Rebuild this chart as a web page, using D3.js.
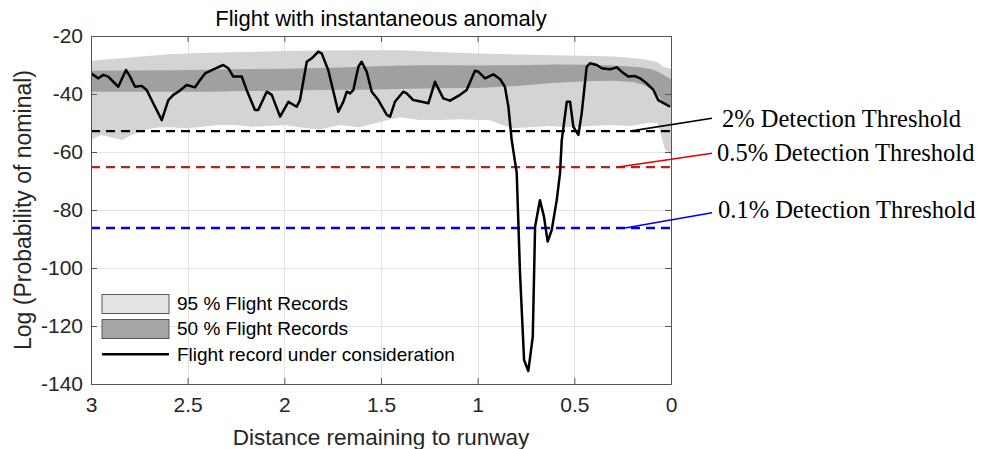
<!DOCTYPE html>
<html>
<head>
<meta charset="utf-8">
<script src="https://cdn.jsdelivr.net/npm/d3@7"></script>
<style>
  html, body { margin: 0; padding: 0; background: #fff; }
  svg { display: block; }
</style>
</head>
<body>
<script>
// Flight record under consideration: distance remaining vs log probability
const distance = [3.0, 2.962, 2.936, 2.911, 2.859, 2.819, 2.798, 2.772, 2.738, 2.712, 2.678, 2.634, 2.600, 2.574, 2.548, 2.505, 2.462, 2.436, 2.410, 2.367, 2.316, 2.290, 2.264, 2.220, 2.195, 2.152, 2.135, 2.091, 2.065, 2.022, 1.979, 1.936, 1.919, 1.884, 1.858, 1.824, 1.807, 1.773, 1.721, 1.695, 1.677, 1.660, 1.643, 1.617, 1.600, 1.574, 1.548, 1.514, 1.470, 1.453, 1.428, 1.385, 1.367, 1.333, 1.289, 1.255, 1.221, 1.178, 1.143, 1.091, 1.057, 1.014, 0.997, 0.962, 0.919, 0.884, 0.859, 0.841, 0.824, 0.798, 0.781, 0.760, 0.738, 0.715, 0.703, 0.678, 0.657, 0.638, 0.617, 0.591, 0.574, 0.565, 0.539, 0.522, 0.505, 0.479, 0.462, 0.436, 0.419, 0.384, 0.358, 0.315, 0.281, 0.255, 0.221, 0.186, 0.160, 0.126, 0.091, 0.066, 0.031, 0.005];
const logProb = [-32.9, -34.6, -33.4, -34.0, -37.5, -31.7, -34.0, -37.5, -37.2, -38.6, -43.2, -49.0, -42.1, -40.3, -39.2, -36.9, -37.7, -35.2, -32.9, -31.5, -30.0, -31.1, -34.0, -34.0, -38.6, -45.5, -45.5, -39.2, -40.3, -47.8, -42.7, -44.4, -42.1, -28.9, -27.7, -25.4, -26.0, -31.7, -46.1, -42.7, -39.2, -39.8, -38.6, -30.6, -28.9, -32.3, -39.2, -42.1, -47.2, -47.8, -42.7, -39.2, -39.8, -42.1, -42.7, -43.2, -35.8, -41.5, -42.3, -40.3, -38.6, -32.0, -32.3, -34.6, -33.2, -34.9, -37.5, -44.4, -55.9, -67.2, -101.7, -131.7, -135.5, -123.7, -85.8, -76.6, -82.3, -90.9, -86.9, -76.6, -67.3, -55.9, -42.7, -42.7, -51.3, -54.1, -46.7, -30.6, -29.4, -30.0, -31.1, -31.5, -30.8, -32.3, -34.0, -33.8, -34.6, -36.3, -38.6, -42.1, -43.4, -44.4];

// Envelope of the recorded fleet (upper edges and 50 % lower edge)
const bandDist = [3.0, 2.8, 2.6, 2.4, 2.2, 2.0, 1.8, 1.6, 1.4, 1.2, 1.0, 0.8, 0.6, 0.4, 0.3, 0.2, 0.15, 0.1, 0.07, 0.04, 0.0];
const upper95 = [-28.5, -27.4, -26.3, -25.8, -25.5, -25.2, -25.0, -24.9, -24.9, -25.5, -26.0, -26.4, -26.6, -26.9, -27.1, -27.6, -27.9, -28.5, -29.0, -30.6, -31.3];
const upper50 = [-32.0, -31.9, -31.8, -31.6, -31.4, -31.3, -31.0, -30.6, -30.2, -30.1, -30.2, -30.1, -29.8, -29.9, -30.2, -30.6, -30.9, -31.5, -32.2, -33.4, -34.9];
const lower50 = [-39.2, -39.2, -39.2, -39.2, -39.0, -38.8, -38.6, -38.5, -38.3, -38.0, -37.9, -37.2, -36.1, -35.5, -35.4, -35.9, -36.6, -38.4, -40.3, -42.7, -44.4];

// Lower edge of the 95 % envelope
const lower95Dist = [3.0, 2.95, 2.91, 2.84, 2.79, 2.72, 2.65, 2.58, 2.51, 2.45, 2.34, 2.26, 2.17, 2.08, 2.0, 1.92, 1.82, 1.71, 1.61, 1.5, 1.4, 1.3, 1.2, 1.09, 0.99, 0.94, 0.83, 0.73, 0.63, 0.52, 0.42, 0.32, 0.21, 0.11, 0.07, 0.05, 0.03, 0.016, 0.0];
const lower95 = [-55.9, -54.1, -54.7, -55.9, -54.1, -52.4, -51.5, -51.5, -51.8, -51.5, -50.7, -50.7, -51.3, -51.0, -50.7, -51.5, -52.2, -50.7, -51.5, -49.6, -48.0, -49.0, -49.0, -48.7, -49.0, -49.0, -51.8, -51.5, -51.0, -51.5, -51.0, -50.7, -51.0, -49.9, -50.1, -54.7, -59.3, -60.0, -61.0];

// Detection thresholds
const thresholdValues = [-52.8, -65.2, -86.2];
const thresholdNames = ["2% Detection Threshold", "0.5% Detection Threshold", "0.1% Detection Threshold"];
const thresholdAnchor = [0.212, 0.273, 0.238];

const xTicks = [3, 2.5, 2, 1.5, 1, 0.5, 0];
const yTicks = [-140, -120, -100, -80, -60, -40, -20];
const legendLabels = ["95 % Flight Records", "50 % Flight Records", "Flight record under consideration"];

// ---- layout & style ----
const W = 984, H = 449;
const plot = { left: 91, right: 671, top: 36, bottom: 384 };
const dashColors = ["#000000", "#b22222", "#0000ee"];
const leaderColors = ["#000000", "#e00000", "#0000ee"];
const labelBaselines = [126.7, 160.7, 218.3];
const labelStartX = [722, 717, 718];
const leaderEnd = [[712, 118.3], [712, 153.3], [712, 212.7]];
const sans = "'Liberation Sans', Arial, Helvetica, sans-serif";
const serif = "'Liberation Serif', 'Times New Roman', serif";
const plainNumber = d => String(d);

const x = d3.scaleLinear().domain([3, 0]).range([plot.left, plot.right]);
const y = d3.scaleLinear().domain([-140, -20]).range([plot.bottom, plot.top]);

const svg = d3.select("body").append("svg")
  .attr("width", W).attr("height", H)
  .attr("viewBox", `0 0 ${W} ${H}`);

svg.append("defs").append("clipPath").attr("id", "plotClip")
  .append("rect")
  .attr("x", plot.left).attr("y", plot.top)
  .attr("width", plot.right - plot.left).attr("height", plot.bottom - plot.top);

// grid
const grid = svg.append("g").attr("stroke", "#e3e3e3").attr("stroke-width", 1);
grid.selectAll("line.gx").data(xTicks.slice(1, -1)).join("line")
  .attr("x1", d => Math.round(x(d)) + 0.5).attr("x2", d => Math.round(x(d)) + 0.5)
  .attr("y1", plot.top).attr("y2", plot.bottom);
grid.selectAll("line.gy").data(yTicks.slice(1, -1)).join("line")
  .attr("y1", d => Math.round(y(d)) + 0.5).attr("y2", d => Math.round(y(d)) + 0.5)
  .attr("x1", plot.left).attr("x2", plot.right);

const body = svg.append("g").attr("clip-path", "url(#plotClip)");

// 95 % envelope as a closed polygon
const outline = bandDist.map((d, i) => [d, upper95[i]])
  .concat(lower95Dist.map((d, i) => [d, lower95[i]]).reverse());
const poly = d3.line().x(p => x(p[0])).y(p => y(p[1]));
body.append("path")
  .attr("d", poly(outline) + "Z")
  .attr("fill", "#d4d4d4");

// 50 % envelope
const area50 = d3.area()
  .x(d => x(d))
  .y0((d, i) => y(lower50[i]))
  .y1((d, i) => y(upper50[i]));
body.append("path")
  .attr("d", area50(bandDist))
  .attr("fill", "#a0a0a0");

// thresholds
body.selectAll("line.thr").data(thresholdValues).join("line")
  .attr("x1", x(3)).attr("x2", x(0))
  .attr("y1", d => y(d)).attr("y2", d => y(d))
  .attr("stroke", (d, i) => dashColors[i])
  .attr("stroke-width", 2.4)
  .attr("stroke-dasharray", "9,6");

// flight record
const flight = distance.map((d, i) => [d, logProb[i]]);
body.append("path")
  .attr("d", d3.line().x(p => x(p[0])).y(p => y(p[1]))(flight))
  .attr("fill", "none")
  .attr("stroke", "#000")
  .attr("stroke-width", 2.5)
  .attr("stroke-linejoin", "round");

// axes (box with inward ticks)
const axisStyle = g => {
  g.select(".domain").attr("stroke", "#555");
  g.selectAll(".tick line").attr("stroke", "#555");
  g.selectAll(".tick text").attr("fill", "#262626")
    .style("font-family", sans).style("font-size", "21px");
};
svg.append("g").attr("transform", `translate(0,${plot.bottom})`)
  .call(d3.axisBottom(x).tickValues(xTicks).tickFormat(plainNumber).tickSize(-6).tickSizeOuter(0).tickPadding(13))
  .call(axisStyle);
svg.append("g").attr("transform", `translate(0,${plot.top})`)
  .call(d3.axisTop(x).tickValues(xTicks).tickFormat("").tickSize(-6).tickSizeOuter(0))
  .call(axisStyle);
svg.append("g").attr("transform", `translate(${plot.left},0)`)
  .call(d3.axisLeft(y).tickValues(yTicks).tickFormat(plainNumber).tickSize(-6).tickSizeOuter(0).tickPadding(8))
  .call(axisStyle);
svg.append("g").attr("transform", `translate(${plot.right},0)`)
  .call(d3.axisRight(y).tickValues(yTicks).tickFormat("").tickSize(-6).tickSizeOuter(0))
  .call(axisStyle);
svg.selectAll(".domain").attr("fill", "none");

// title & axis labels
svg.append("text")
  .attr("x", (plot.left + plot.right) / 2).attr("y", 26)
  .attr("text-anchor", "middle")
  .style("font-family", sans).style("font-size", "22px").attr("fill", "#000")
  .text("Flight with instantaneous anomaly");
svg.append("text")
  .attr("x", (plot.left + plot.right) / 2).attr("y", 445)
  .attr("text-anchor", "middle")
  .style("font-family", sans).style("font-size", "22.5px").attr("fill", "#262626")
  .text("Distance remaining to runway");
svg.append("text")
  .attr("transform", `translate(31,${(plot.top + plot.bottom) / 2}) rotate(-90)`)
  .attr("text-anchor", "middle")
  .style("font-family", sans).style("font-size", "23px").attr("fill", "#262626")
  .text("Log (Probability of nominal)");

// legend
const legend = svg.append("g");
const legendRowY = [303.5, 328.8, 354.3];
legend.append("rect").attr("x", 102).attr("y", 294.5).attr("width", 67).attr("height", 19)
  .attr("fill", "#e3e3e3").attr("stroke", "#5a5a5a").attr("stroke-width", 1);
legend.append("rect").attr("x", 102).attr("y", 319.5).attr("width", 67).attr("height", 19)
  .attr("fill", "#a6a6a6").attr("stroke", "#5a5a5a").attr("stroke-width", 1);
legend.append("line").attr("x1", 102).attr("x2", 169).attr("y1", 354.3).attr("y2", 354.3)
  .attr("stroke", "#000").attr("stroke-width", 2.4);
legend.selectAll("text").data(legendLabels).join("text")
  .attr("x", 177).attr("y", (d, i) => legendRowY[i])
  .attr("dy", "0.35em")
  .style("font-family", sans).style("font-size", "19px").attr("fill", "#000")
  .text(d => d);

// threshold annotations with leader lines
const notes = svg.append("g");
notes.selectAll("line").data(thresholdValues).join("line")
  .attr("x1", (d, i) => x(thresholdAnchor[i])).attr("y1", d => y(d))
  .attr("x2", (d, i) => leaderEnd[i][0]).attr("y2", (d, i) => leaderEnd[i][1])
  .attr("stroke", (d, i) => leaderColors[i]).attr("stroke-width", 1.6);
notes.selectAll("text").data(thresholdNames).join("text")
  .attr("x", (d, i) => labelStartX[i]).attr("y", (d, i) => labelBaselines[i])
  .style("font-family", serif).style("font-size", "24.5px").attr("fill", "#000")
  .text(d => d);
</script>
</body>
</html>
